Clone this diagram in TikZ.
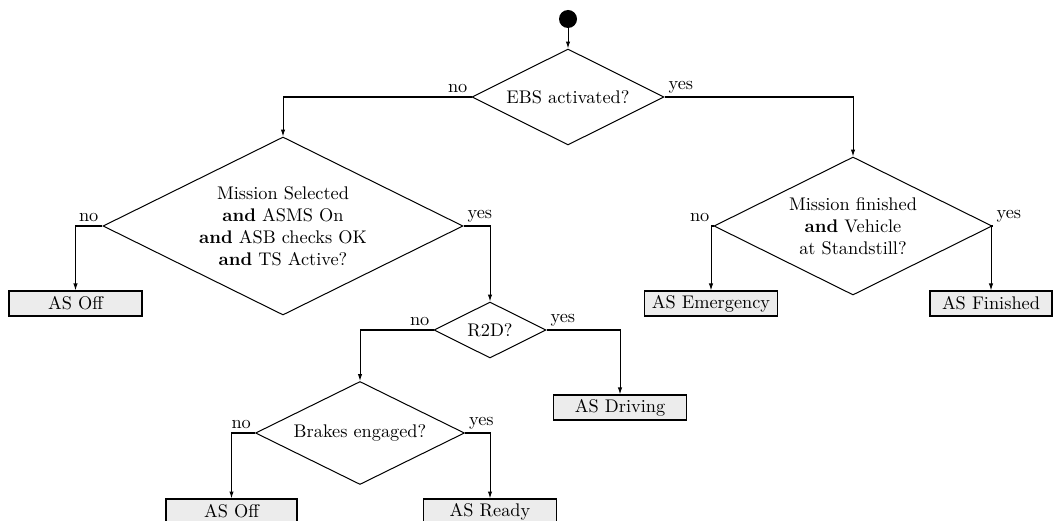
\documentclass[tikz,border=0pt]{standalone}
\usetikzlibrary{shapes.geometric,arrows.meta}
\newcommand\pxu{0.5464pt}
\begin{document}
\begin{tikzpicture}[x=\pxu, y=-\pxu,
  dec/.style 2 args={diamond, aspect=2, draw, line width=0.55pt, inner sep=0pt, align=center,
    minimum width=#1*\pxu, minimum height=#2*\pxu},
  state/.style={draw, line width=0.6pt, fill=gray!15, inner sep=0pt,
    minimum width=133*\pxu, minimum height=25*\pxu},
  arr/.style={line width=0.55pt, -{Latex[length=3.8pt,width=2.4pt]}},
  lbl/.style={inner sep=2pt}]
\useasboundingbox (0,0) rectangle (1053,521);
\node[circle, fill=black, inner sep=0pt, minimum size=18*\pxu] (start) at (568,19) {};
\node[dec={192}{96}] (ebs) at (568,97) {EBS activated?};
\node[dec={360}{178}] (ms) at (283,226) {Mission Selected\\\textbf{and} ASMS On\\\textbf{and} ASB checks OK\\\textbf{and} TS Active?};
\node[dec={278}{138}] (mf) at (853,226) {Mission finished\\\textbf{and} Vehicle\\at Standstill?};
\node[dec={112}{56}] (r2d) at (490,330) {R2D?};
\node[dec={209}{103}] (br) at (360,433) {Brakes engaged?};
\node[state] (off1) at (75.5,303.5) {AS Off};
\node[state] (emg) at (711,303.5) {AS Emergency};
\node[state, minimum width=122*\pxu] (fin) at (991,303.5) {AS Finished};
\node[state] (drv) at (620,407.5) {AS Driving};
\node[state, minimum width=131*\pxu] (off2) at (231.5,511.5) {AS Off};
\node[state] (rdy) at (490,511.5) {AS Ready};
\draw[arr] (start) -- (ebs);
\draw[arr] (ebs.west) -| (ms.north) node[pos=0, lbl, above left] {no};
\draw[arr] (ebs.east) -| (mf.north) node[pos=0, lbl, above right] {yes};
\draw[arr] (ms.west) -| (off1.north) node[pos=0, lbl, above left] {no};
\draw[arr] (ms.east) -| (r2d.north) node[pos=0, lbl, above right] {yes};
\draw[arr] (r2d.west) -| (br.north) node[pos=0, lbl, above left] {no};
\draw[arr] (r2d.east) -| (drv.north) node[pos=0, lbl, above right] {yes};
\draw[arr] (br.west) -| (off2.north) node[pos=0, lbl, above left] {no};
\draw[arr] (br.east) -| (rdy.north) node[pos=0, lbl, above right] {yes};
\draw[arr] (mf.west) -| (emg.north) node[pos=0, lbl, above left] {no};
\draw[arr] (mf.east) -| (fin.north) node[pos=0, lbl, above right] {yes};
\end{tikzpicture}
\end{document}
